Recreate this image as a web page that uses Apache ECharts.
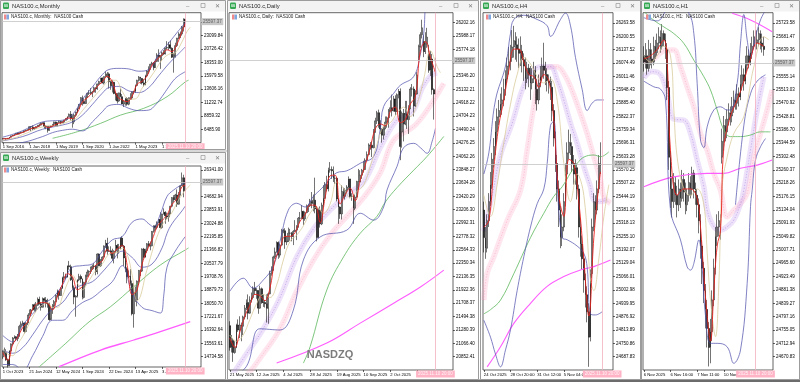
<!DOCTYPE html>
<html lang="en">
<head>
<meta charset="UTF-8">
<title>NAS100 multi timeframe</title>
<script src="https://cdn.jsdelivr.net/npm/echarts@6/dist/echarts.min.js"></script>
<style>
  html, body { margin: 0; padding: 0; background: #fff; }
  #main { width: 800px; height: 382px; }
</style>
</head>
<body>
<div id="main"></div>
<script type="text/javascript">
// ---- Monthly: candles [open, close, low, high] from 1 Sep 2016
var monthlyCandles = [
  [4770,4875,4720,4890],[4875,4800,4760,4900],[4800,4810,4600,4900],[4810,4860,4770,4960],
  [4860,5090,4850,5110],[5090,5330,5070,5350],[5330,5440,5300,5470],[5440,5580,5330,5600],
  [5580,5790,5520,5820],[5790,5650,5560,5910],[5650,5880,5630,5930],[5880,5990,5750,6000],
  [5990,6000,5870,6020],[6000,6250,5990,6260],[6250,6370,6200,6400],[6370,6400,6270,6460],
  [6400,6950,6400,7020],[6950,6900,6170,7020],[6900,6580,6320,7190],[6580,6610,6400,6870],
  [6610,6970,6570,7000],[6970,7040,6960,7280],[7040,7230,7010,7500],[7230,7620,7180,7630],
  [7620,7630,7460,7690],[7630,6970,6610,7700],[6970,6950,6500,7140],[6950,6330,5900,7000],
  [6330,6900,6210,6970],[6900,7090,6860,7150],[7090,7380,6940,7400],[7380,7780,7370,7850],
  [7780,7130,7090,7850],[7130,7670,7030,7710],[7670,7850,7630,8020],[7850,7690,7420,7950],
  [7690,7750,7550,7990],[7750,8080,7540,8120],[8080,8410,8050,8440],[8410,8730,8150,8780],
  [8730,9150,8720,9280],[9150,8460,8060,9720],[8460,7810,6770,9000],[7810,9000,7400,9200],
  [9000,9560,8750,9600],[9560,10160,9350,10310],[10160,10900,10100,10980],[10900,12110,10800,12190],
  [12110,11420,10680,12470],[11420,11050,10950,12000],[11050,12270,10980,12300],[12270,12890,12050,12950],
  [12890,12930,12580,13440],[12930,12910,12600,13800],[12910,13090,12200,13300],[13090,13860,13080,14060],
  [13860,13690,12970,13900],[13690,14550,13500,14570],[14550,14960,14350,15120],[14960,15580,14800,15600],
  [15580,14690,14650,15700],[14690,15850,14450,15870],[15850,16140,15800,16760],[16140,16320,15600,16660],
  [16320,14930,13720,16570],[14930,14240,13500,15200],[14240,14840,13020,15270],[14840,12850,12720,14900],
  [12850,12640,11600,13150],[12640,11500,11070,12950],[11500,12950,11370,12990],[12950,12270,12150,13720],
  [12270,10970,10950,12750],[10970,11410,10440,11650],[11410,11950,10690,12040],[11950,10940,10670,12170],
  [10940,12100,10750,12140],[12100,12040,11810,12880],[12040,13180,11700,13210],[13180,13250,12720,13300],
  [13250,14250,12970,14420],[14250,15180,14140,15280],[15180,15760,14960,15930],[15760,15500,14560,15800],
  [15500,14720,14440,15570],[14720,14410,14060,15360],[14410,15950,14290,16170],[15950,16830,15800,16970],
  [16830,17140,16380,17660],[17140,18040,17100,18120],[18040,18250,17780,18470],[18250,17440,16970,18430],
  [17440,18540,17400,18910],[18540,19680,18410,20000],[19680,19360,18460,20690],[19360,19570,17220,19640],
  [19570,20060,18630,20300],[20060,19890,19660,20550],[19890,20930,19780,21000],[20930,21010,20620,22130],
  [21010,21480,20540,22000],[21480,20880,20660,22220],[20880,19280,19150,21030],[19280,19570,16540,20050],
  [19570,21340,19230,21860],[21340,22680,21100,22700],[22680,23220,22480,23720],[23220,23420,22670,23850],
  [23420,24680,23100,24830],[24680,26000,23850,26190],[26000,25590,24680,26120]
];
var monthlyDates = ['1 Sep 2016', '1 Jan 2018', '1 May 2019', '1 Sep 2020', '1 Jan 2022', '1 May 2023', '1 Sep 2024'];
var monthlyTicks = [6485.90, 8859.32, 11232.74, 13606.16, 15979.58, 18353.00, 20726.42, 23099.84, 25473.26];
var monthlyUpper = [[0,5100],[6,5600],[12,6250],[18,7100],[24,7800],[30,8000],[36,8100],[42,9100],[48,11800],[54,14000],[60,16200],[64,17100],[70,17300],[76,17200],[82,16800],[88,17100],[94,19800],[100,21800],[106,24000],[110,25400]];
var monthlyMiddle = [[0,4450],[12,5200],[24,6500],[36,7250],[42,7800],[48,9000],[54,10900],[60,12900],[64,13900],[70,14100],[76,13300],[82,13000],[88,13900],[94,16000],[100,18100],[106,19900],[110,21100]];
var monthlyLower = [[0,3800],[12,4150],[24,5200],[30,5900],[36,6300],[42,6500],[48,6200],[54,7800],[60,9600],[64,10700],[70,10900],[76,10200],[82,9800],[88,9900],[92,10800],[96,12300],[100,14000],[103,15200],[106,16000],[110,16700]];
var monthlyRed = [[0,4800],[3,4840],[6,5300],[9,5620],[12,5930],[15,6300],[18,6700],[21,6900],[24,7450],[27,6800],[30,7050],[33,7500],[36,7720],[39,8500],[42,8400],[45,9500],[48,11300],[51,12100],[54,12950],[57,14100],[60,14900],[63,15900],[66,14900],[69,12300],[72,11700],[75,11400],[78,12400],[81,14500],[84,15000],[87,16000],[90,17900],[93,18900],[96,19700],[99,20600],[102,20300],[105,21600],[108,23800],[110,25300]];
var monthlyTan = [[0,4500],[4,4750],[8,5050],[12,5550],[16,6000],[20,6600],[24,6900],[28,7200],[32,7050],[36,7500],[40,7900],[44,8400],[48,9800],[52,11200],[56,12600],[60,13900],[64,15100],[68,15200],[72,13200],[76,11800],[80,11900],[84,13800],[88,15300],[92,17000],[96,18800],[100,19800],[104,20100],[108,22000],[111,23800],[113,24600]];
var monthlyGreen = [[30,4890],[45,6060],[59,7550],[71,9010],[85,10210],[99,12270],[110,14900],[112,15200]];

// ---- Weekly: candles from week of 1 Oct 2023
var weeklyCandles = [
  [14720,15080,14600,15120],[15080,14990,14850,15300],[14990,14540,14480,15200],[14540,14180,14060,14620],
  [14180,15100,14150,15130],[15100,15530,15000,15560],[15530,15900,15450,15950],[15900,15980,15850,16060],
  [15980,15860,15700,16010],[15860,16080,15700,16150],[16080,16620,15970,16720],[16620,16780,16480,16930],
  [16780,16830,16680,16970],[16830,16300,16180,16850],[16300,16830,16250,16880],[16830,17310,16700,17340],
  [17310,17420,17300,17670],[17420,17640,17250,17700],[17640,17960,17600,18000],[17960,17690,17550,18040],
  [17690,17940,17500,18140],[17940,18300,17900,18420],[18300,18020,17980,18470],[18020,17810,17600,18100],
  [17810,18340,17790,18420],[18340,18250,18150,18420],[18250,18050,17800,18440],[18050,18000,17780,18340],
  [18000,17040,16970,18100],[17040,17720,17100,17820],[17720,17890,17400,18010],[17890,18160,17890,18260],
  [18160,18550,18100,18620],[18550,18810,18450,18910],[18810,18540,18280,18830],[18540,19000,18520,19050],
  [19000,19660,18950,19710],[19660,19700,19480,20000],[19700,19680,19550,19900],[19680,20390,19660,20400],
  [20390,20330,20140,20690],[20330,19520,19450,20460],[19520,19020,18900,19690],[19020,18440,18000,19160],
  [18440,18510,17220,18560],[18510,19510,18420,19550],[19510,19720,19430,19890],[19720,19570,19330,19840],
  [19570,18420,18300,19600],[18420,19360,18360,19390],[19360,19750,19150,19840],[19750,20000,19700,20150],
  [20000,20040,19740,20110],[20040,20270,19880,20340],[20270,20360,20130,20460],[20360,20350,20180,20550],
  [20350,20030,19800,20440],[20030,21120,19860,21160],[21120,20390,20360,21160],[20390,20740,20310,20800],
  [20740,20930,20700,20980],[20930,21620,20900,21650],[21620,21780,21500,22000],[21780,21290,21080,22130],
  [21290,21320,21250,21600],[21320,21250,21030,21600],[21250,20850,20700,21450],[20850,21300,20540,21350],
  [21300,21650,21170,22000],[21650,21480,20850,21750],[21480,21490,21150,21750],[21490,22110,21420,22140],
  [22110,21610,21570,22220],[21610,20880,20380,21680],[20880,20200,19990,21000],[20200,19700,19300,20300],
  [19700,19750,19620,20100],[19750,19280,19150,20180],[19280,17400,17300,19470],[17400,18690,16540,19300],
  [18690,18260,18140,19100],[18260,19430,17870,19480],[19430,20100,19200,20130],[20100,20060,19750,20160],
  [20060,21430,20000,21470],[21430,20920,20850,21500],[20920,21340,20900,21450],[21340,21760,21200,21800],
  [21760,21630,21540,21930],[21630,21630,21350,21900],[21630,22530,21600,22550],[22530,22870,22450,22900],
  [22870,22780,22600,22950],[22780,23070,22700,23150],[23070,23270,23020,23300],[23270,22760,22700,23720],
  [22760,23610,22700,23630],[23610,23710,23580,23960],[23710,23500,23000,23780],[23500,23420,23300,23700],
  [23420,23650,23130,23700],[23650,24090,23600,24120],[24090,24630,24020,24660],[24630,24500,24340,24780],
  [24500,24790,24440,24860],[24790,24220,24050,25140],[24220,24820,24190,24980],[24820,25360,24750,25400],
  [25360,25860,25350,26190],[25860,25060,24650,26050],[25060,25590,25040,25620]
];
var weeklyDates = ['1 Oct 2023', '21 Jan 2024', '12 May 2024', '1 Sep 2024', '22 Dec 2024', '13 Apr 2025', '3 Aug 2025'];
var weeklyTicks = [14734.58, 15563.61, 16392.64, 17221.67, 18050.70, 18879.73, 19708.76, 20537.79, 21366.82, 22195.85, 23024.88, 23853.91, 24682.94, 25511.97, 26341.00];
var weeklyUpper = [[0,16050],[6,15650],[12,16700],[18,17400],[24,18000],[30,18400],[36,19200],[42,20300],[48,20400],[54,20500],[60,21300],[66,22000],[72,22200],[78,23100],[84,23300],[88,23000],[91,22800],[95,23600],[99,24700],[103,25100],[108,25450],[110,25600]];
var weeklyMiddle = [[0,15150],[6,14950],[12,15300],[18,16100],[24,17000],[30,17700],[36,18100],[42,18900],[48,19200],[54,19400],[60,20000],[66,20700],[72,21300],[78,20900],[84,20300],[90,20500],[96,21500],[99,22400],[102,23000],[108,23800],[110,24100]];
var weeklyLower = [[0,14250],[6,14250],[12,13900],[18,14800],[24,16000],[30,17000],[36,17000],[42,17600],[48,18100],[54,18400],[60,18900],[66,19400],[72,20400],[78,18700],[84,17800],[90,17600],[95,17450],[97,18500],[99,20300],[104,21300],[110,22200]];
var weeklyRed = [[0,15000],[3,14500],[6,15500],[9,15950],[12,16550],[15,16900],[18,17700],[21,18050],[24,18100],[27,18050],[30,17650],[33,18500],[36,19250],[39,19900],[42,19700],[45,18900],[48,19100],[51,19600],[54,20200],[57,20500],[60,20700],[63,21400],[66,21150],[69,21450],[72,21650],[75,20400],[78,18600],[81,18900],[84,20500],[87,21350],[90,22000],[93,22800],[96,23200],[99,23550],[102,24200],[105,24550],[108,25300],[110,25400]];
var weeklyTan = [[0,15200],[3,14900],[6,14800],[9,15500],[12,16000],[15,16600],[18,17200],[21,17700],[24,17950],[27,18100],[30,17800],[33,17800],[36,18500],[39,19300],[42,19800],[45,19300],[48,18900],[51,19300],[54,19800],[57,20200],[60,20500],[63,21000],[66,21200],[69,21200],[72,21500],[75,21100],[78,19800],[81,18200],[83,18500],[86,19800],[89,20900],[92,21900],[96,22900],[99,23300],[102,23700],[105,24300],[108,24800],[111,25200],[113,25400]];
var weeklyGreen = [[22,14110],[38,15570],[52,16900],[65,17850],[79,19090],[95,20440],[110,21370],[112,21500]];
var weeklyMagenta = [[34,14112],[59,15150],[79,15773],[95,16290],[113,16911]];

// ---- Daily: candles from 21 May 2025
var dailyCandles = [
  [21350,21000,20950,21420],[21000,21110,20920,21200],[21110,20920,20770,21150],[20920,21000,20900,21100],
  [21000,21360,20990,21380],[21360,21280,21250,21450],[21280,21360,21150,21500],[21360,21340,21100,21400],
  [21340,21490,21200,21510],[21490,21630,21450,21680],[21630,21720,21600,21770],[21720,21550,21450,21850],
  [21550,21760,21540,21820],[21760,21800,21720,21880],[21800,21950,21770,21980],[21950,21910,21850,22050],
  [21910,21910,21780,21950],[21910,21630,21540,21920],[21630,21940,21620,21990],[21940,21720,21700,21960],
  [21720,21720,21650,21850],[21720,21700,21640,21760],[21700,21630,21400,21850],[21630,21860,21380,21880],
  [21860,22190,21850,22230],[22190,22240,22150,22300],[22240,22450,22230,22470],[22450,22530,22420,22600],
  [22530,22680,22520,22700],[22680,22480,22420,22700],[22480,22640,22440,22660],[22640,22870,22630,22900],
  [22870,22870,22830,22900],[22870,22690,22580,22910],[22690,22700,22640,22780],[22700,22830,22690,22920],
  [22830,22830,22710,22900],[22830,22780,22700,22850],[22780,22860,22640,22880],[22860,22880,22850,23040],
  [22880,22930,22720,22960],[22930,23070,22920,23090],[23070,23070,23010,23170],[23070,23180,23060,23280],
  [23180,23060,22960,23190],[23060,23160,23030,23180],[23160,23220,23150,23290],[23220,23270,23170,23300],
  [23270,23340,23250,23380],[23340,23310,23230,23490],[23310,23360,23180,23450],[23360,23220,23150,23720],
  [23220,22760,22700,23250],[22760,23200,22750,23230],[23200,22980,22920,23260],[22980,23280,22960,23320],
  [23280,23390,23240,23600],[23390,23610,23380,23650],[23610,23540,23500,23750],[23540,23840,23500,23880],
  [23840,23850,23800,23970],[23850,23830,23700,23900],[23830,23710,23650,23900],[23710,23710,23620,23760],
  [23710,23380,23340,23730],[23380,23250,22980,23380],[23250,23140,23060,23260],[23140,23500,23050,23600],
  [23500,23420,23400,23560],[23420,23520,23370,23550],[23520,23570,23460,23600],[23570,23700,23540,23740],
  [23700,23420,23390,23700],[23420,23420,23350,23470],[23420,23230,22980,23450],[23230,23410,23200,23450],
  [23410,23660,23400,23670],[23660,23650,23530,23860],[23650,23760,23650,23840],[23760,23840,23700,23860],
  [23840,23850,23800,23990],[23850,24000,23840,24030],[24000,24090,23990,24140],[24090,24240,24080,24270],
  [24240,24240,24170,24290],[24240,24200,24050,24300],[24200,24450,24190,24500],[24450,24630,24440,24680],
  [24630,24760,24580,24790],[24760,24580,24520,24810],[24580,24500,24420,24640],[24500,24400,24280,24510],
  [24400,24500,24330,24540],[24500,24610,24500,24700],[24610,24680,24520,24700],[24680,24790,24520,24820],
  [24790,24840,24780,24960],[24840,24790,24700,25050],[24790,24980,24780,25030],[24980,24780,24720,25040],
  [24780,25050,24770,25070],[25050,25100,24990,25140],[25100,24220,24000,25150],[24450,24750,24200,24780],
  [24750,24580,24300,24820],[24580,24740,24560,24950],[24740,24650,24500,24950],[24650,24820,24420,24880],
  [24820,25140,24820,25170],[25140,25140,25020,25220],[25140,24870,24700,25180],[24870,25060,24850,25120],
  [25060,25360,25050,25410],[25650,25820,25600,25850],[25820,26010,25800,26050],[26010,26120,25950,26250],
  [25900,25740,25650,26000],[25740,25860,25700,26050],[25860,25970,25800,26120],[25700,25440,25400,25850],
  [25440,25620,25350,25750],[25620,25130,25050,25700],[25130,25060,24650,25150],[25060,25590,25050,25640]
];
var dailyDates = ['21 May 2025', '12 Jun 2025', '4 Jul 2025', '28 Jul 2025', '19 Aug 2025', '10 Sep 2025', '2 Oct 2025', '24 Oct 2025'];
var dailyTicks = [20852.41, 21066.40, 21280.39, 21494.38, 21708.37, 21922.36, 22136.35, 22350.34, 22564.33, 22778.32, 22992.31, 23206.30, 23420.29, 23634.28, 23848.27, 24062.26, 24276.25, 24490.24, 24704.23, 24918.22, 25132.21, 25346.20, 25560.19, 25774.18, 25988.17, 26202.16];
var dailyUpper = [[0,21900],[8,22110],[14,21950],[20,22080],[26,22300],[30,22700],[35,23200],[40,23310],[45,23250],[50,23420],[55,23550],[60,23700],[64,23800],[70,23830],[78,23950],[86,24060],[90,24500],[92,24860],[98,25070],[102,25200],[110,25340],[114,25700],[116,26030],[118,26600],[123,26700]];
var dailyLower = [[0,20500],[10,20700],[18,21300],[30,21280],[38,21600],[44,22400],[54,22770],[70,22880],[78,23150],[86,23040],[92,23250],[94,23520],[100,23900],[104,24200],[110,24270],[114,24200],[118,24110],[121,24300],[123,24510]];
var dailyPurple = [[0,20500],[10,20900],[20,21300],[30,21800],[40,22450],[50,22900],[60,23200],[70,23450],[80,23650],[90,24200],[100,24650],[105,24700],[110,24800],[115,25150],[120,25350],[124,25400]];
var dailyPink = [[0,20300],[10,20550],[20,20900],[30,21300],[40,21900],[50,22400],[60,22800],[70,23100],[80,23400],[90,23800],[98,24320],[110,24540],[118,24800],[128,25230]];
var dailyRed = [[0,21150],[3,21000],[6,21250],[9,21500],[12,21680],[15,21850],[18,21830],[21,21750],[24,21950],[27,22400],[30,22580],[33,22780],[36,22780],[39,22840],[42,23020],[45,23130],[48,23280],[51,23280],[54,23000],[57,23400],[60,23750],[63,23760],[66,23300],[69,23450],[72,23550],[75,23350],[78,23680],[81,23920],[84,24200],[87,24500],[90,24580],[93,24550],[96,24780],[99,24850],[102,24600],[105,24650],[108,24900],[111,25020],[114,25750],[117,25900],[120,25650],[123,25400]];
var dailyTan = [[0,21200],[4,21100],[8,21200],[12,21450],[16,21700],[20,21850],[24,21800],[28,22000],[32,22400],[36,22700],[40,22800],[44,22950],[48,23150],[52,23250],[56,23150],[60,23300],[64,23650],[68,23550],[72,23400],[76,23500],[80,23600],[84,23900],[88,24250],[92,24550],[96,24600],[100,24750],[104,24850],[108,24700],[112,24900],[116,25300],[120,25750],[124,25500],[126,25400]];
var dailyGreen = [[44,20750],[48,21010],[58,21920],[68,22450],[78,22830],[88,23100],[93,23330],[100,23560],[110,23840],[118,24060],[128,24380]];
var dailyMagenta = [[28,20750],[58,21070],[78,21390],[98,21710],[114,21970],[128,22240]];

// ---- H4: candles from 24 Oct 2025
var h4Candles = [
  [25380,25250,25180,25420],[25250,25200,25150,25300],[25200,25330,25180,25360],[25330,25420,25300,25460],
  [25420,25500,25400,25560],[25500,25620,25480,25650],[25620,25680,25580,25720],[25680,25750,25640,25800],
  [25750,25820,25700,25860],[25820,25850,25780,25900],[25850,25880,25820,25930],[25880,25900,25830,25960],
  [25900,25950,25870,26000],[25950,26000,25920,26040],[26000,26060,25980,26100],[26060,26080,26020,26150],
  [26080,26100,26040,26160],[26100,26150,26080,26230],[26150,26180,26100,26250],[26180,26160,26090,26220],
  [26160,26140,26080,26200],[26140,26120,26050,26190],[26120,26130,26060,26200],[26130,26090,26030,26160],
  [26090,26060,25990,26120],[26060,26000,25950,26100],[26000,26050,25980,26080],[26050,26020,25960,26070],
  [26020,25980,25900,26060],[25980,26000,25950,26050],[26000,26040,25980,26080],[26040,25950,25880,26060],
  [25950,25900,25850,26000],[25900,25980,25880,26020],[25980,26010,25960,26060],[26010,26060,25990,26100],
  [26060,26040,26000,26170],[26040,26020,25970,26080],[26020,25990,25940,26050],[25990,25980,25930,26020],
  [25980,25960,25900,26010],[25960,25850,25800,25990],[25850,25720,25680,25880],[25720,25600,25560,25750],
  [25600,25480,25420,25640],[25480,25380,25300,25520],[25380,25250,25200,25400],[25250,25300,25210,25360],
  [25300,25420,25280,25460],[25420,25550,25400,25600],[25550,25650,25520,25700],[25650,25700,25620,25760],
  [25700,25680,25640,25740],[25680,25600,25560,25700],[25600,25550,25500,25640],[25550,25580,25500,25620],
  [25580,25480,25430,25600],[25480,25300,25250,25500],[25300,25220,25160,25340],[25220,25150,25100,25260],
  [25150,25050,24990,25180],[25050,24980,24920,25080],[24980,24900,24850,25020],[24900,24780,24640,24940],
  [24780,25080,24760,25100],[25080,25300,25060,25340],[25300,25420,25280,25460],[25420,25380,25340,25450],
  [25380,25480,25360,25520],[25480,25600,25460,25640],[25600,25590,25550,25700]
];
var h4Dates = ['24 Oct 2025', '28 Oct 20:00', '31 Oct 12:00', '5 Nov 04:00'];
var h4Ticks = [24687.83, 24750.86, 24813.89, 24876.92, 24939.95, 25002.98, 25066.01, 25129.04, 25192.07, 25255.10, 25318.13, 25381.16, 25444.19, 25507.22, 25570.25, 25633.28, 25696.31, 25759.34, 25822.37, 25885.40, 25948.43, 26011.46, 26074.49, 26137.52, 26200.55, 26263.58];
var h4Upper = [[0,25550],[3,25650],[7,25900],[13,26060],[16,26215],[18,26280],[24,26300],[32,26280],[38,26250],[40,26200],[46,26280],[49,26310],[52,26250],[55,26100],[59,25950],[62,25850],[65,25885],[68,25900],[72,25900]];
var h4Lower = [[0,24860],[4,24780],[7,24700],[10,24640],[13,24720],[16,24815],[20,25000],[24,25160],[28,25300],[32,25410],[36,25480],[38,25600],[40,25780],[42,25800],[44,25500],[47,25250],[50,25240],[56,25210],[60,25175],[62,25110],[64,24890],[67,24885],[71,24900]];
var h4Purple = [[0,25280],[5,25450],[10,25640],[17,25790],[23,25947],[28,26025],[34,26057],[40,26057],[44,25994],[48,25899],[52,25790],[56,25695],[60,25585],[64,25490],[66,25427],[70,25420],[74,25430]];
var h4Pink = [[0,24955],[2,25081],[6,25160],[14,25330],[22,25474],[26,25664],[30,25868],[34,26010],[40,26057],[44,26057],[48,26025],[52,25962],[58,25836],[62,25742],[66,25632],[70,25522],[72,25443],[76,25412]];
var h4Red = [[0,25300],[3,25330],[6,25580],[9,25780],[12,25900],[15,26040],[18,26140],[21,26140],[24,26080],[27,26020],[30,26010],[33,25960],[36,26020],[39,25990],[42,25800],[45,25450],[48,25350],[51,25620],[54,25600],[57,25420],[60,25150],[63,24880],[66,25250],[69,25500],[70,25560]];
var h4Tan = [[0,25450],[4,25350],[8,25500],[12,25700],[16,25880],[20,26020],[24,26100],[28,26070],[32,26010],[36,25980],[40,26000],[44,25900],[48,25600],[52,25420],[56,25550],[60,25450],[64,25050],[66,25000],[69,25150],[72,25350],[75,25500]];
var h4Green = [[0,24890],[4,24910],[10,24955],[18,25080],[28,25250],[36,25365],[42,25445],[47,25490],[52,25555],[56,25600],[60,25630],[66,25640],[70,25632],[75,25655]];
var h4Magenta = [[2,24640],[10,24735],[18,24845],[28,24940],[38,25020],[48,25066],[58,25097],[66,25113],[76,25144]];

// ---- H1: candles from 6 Nov 2025
var h1Candles = [
  [25620,25600,25570,25650],[25600,25620,25580,25660],[25620,25580,25560,25640],[25580,25640,25570,25670],
  [25640,25610,25590,25660],[25610,25600,25580,25640],[25600,25650,25590,25680],[25650,25630,25610,25670],
  [25630,25660,25620,25690],[25660,25680,25640,25710],[25680,25650,25630,25700],[25650,25690,25640,25720],
  [25690,25670,25650,25700],[25670,25640,25610,25690],[25640,25520,25480,25660],[25520,25300,25260,25540],
  [25300,25200,25140,25320],[25200,25160,25110,25240],[25160,25220,25140,25250],[25220,25180,25150,25240],
  [25180,25150,25110,25210],[25150,25200,25130,25230],[25200,25170,25140,25220],[25170,25230,25160,25260],
  [25230,25190,25160,25250],[25190,25150,25120,25220],[25150,25180,25130,25200],[25180,25220,25160,25250],
  [25220,25200,25170,25240],[25200,25250,25180,25270],[25250,25200,25170,25260],[25200,25180,25150,25220],
  [25180,25150,25110,25200],[25150,25100,25060,25170],[25100,25020,24980,25120],[25020,24950,24900,25040],
  [24950,24880,24840,24970],[24880,24820,24760,24900],[24820,24760,24700,24850],[24760,24700,24640,24780],
  [24700,24750,24650,24790],[24750,24850,24720,24880],[24850,24950,24830,24980],[24950,25050,24930,25080],
  [25050,25080,25020,25120],[25080,25100,25050,25130],[25100,25060,25040,25120],[25300,25350,25280,25390],
  [25350,25400,25320,25430],[25400,25380,25350,25420],[25380,25420,25360,25450],[25420,25440,25400,25470],
  [25440,25430,25400,25460],[25430,25460,25410,25490],[25460,25480,25440,25510],[25480,25470,25450,25500],
  [25470,25500,25450,25530],[25500,25490,25460,25520],[25490,25530,25480,25560],[25530,25560,25510,25590],
  [25560,25540,25510,25580],[25540,25590,25530,25620],[25590,25620,25570,25650],[25620,25600,25580,25640],
  [25600,25630,25590,25660],[25630,25650,25610,25680],[25650,25680,25640,25700],[25680,25660,25640,25700],
  [25660,25670,25640,25700],[25670,25690,25650,25710],[25690,25660,25640,25700],[25660,25650,25630,25690],
  [25650,25640,25620,25680]
];
var h1Dates = ['6 Nov 2025', '6 Nov 16:00', '7 Nov 11:00', '10 Nov 03:00'];
var h1Ticks = [24670.83, 24712.94, 24755.05, 24797.16, 24839.27, 24881.38, 24923.49, 24965.60, 25007.71, 25049.82, 25091.93, 25134.04, 25176.15, 25218.26, 25260.37, 25302.48, 25344.59, 25386.70, 25428.81, 25470.92, 25513.03, 25555.14, 25597.25, 25639.36, 25681.47, 25723.58];
var h1Upper = [[0,25740],[8,25730],[13,25760],[18,25800],[27,25754],[30,25690],[32,25533],[34,25354],[36,25330],[38,25396],[42,25449],[46,25459],[50,25449],[52,25449],[56,25533],[58,25660],[60,25750],[62,25670],[64,25617],[67,25680],[70,25733],[73,25764]];
var h1Middle = [[55,25150],[60,25400],[64,25500],[68,25540],[73,25560]];
var h1Lower = [[0,25540],[6,25522],[10,25515],[13,25480],[16,25133],[22,25039],[26,24954],[28,24944],[30,24965],[33,25039],[35,24950],[37,24800],[40,24713],[44,24713],[50,24702],[54,24650],[58,24692],[62,24902],[64,25144],[65,25196],[67,25291],[70,25333],[73,25359]];
var h1Purple = [[0,25550],[5,25570],[10,25560],[14,25500],[18,25420],[24,25417],[28,25375],[32,25291],[36,25207],[38,25133],[42,25081],[46,25070],[50,25081],[54,25102],[58,25154],[60,25196],[64,25322],[68,25449],[72,25554]];
var h1Pink = [[0,25600],[6,25610],[10,25630],[14,25638],[18,25638],[22,25585],[26,25522],[30,25459],[34,25375],[38,25322],[42,25249],[46,25196],[50,25112],[54,25133],[58,25154],[62,25186],[66,25301],[70,25375],[74,25449],[77,25512]];
var h1Red = [[0,25610],[4,25620],[8,25640],[12,25670],[14,25600],[16,25320],[20,25180],[24,25200],[28,25200],[32,25170],[34,25080],[36,24930],[38,24800],[40,24720],[42,24880],[44,25020],[46,25070],[48,25330],[52,25430],[56,25480],[60,25540],[64,25610],[68,25660],[72,25650]];
var h1Tan = [[0,25620],[4,25600],[8,25620],[12,25650],[16,25620],[18,25450],[20,25300],[24,25200],[28,25180],[32,25200],[36,25150],[38,25000],[40,24850],[43,24734],[45,24900],[47,25207],[50,25301],[54,25375],[60,25428],[66,25585],[72,25680],[75,25670]];
var h1Green = [[0,25760],[6,25732],[12,25711],[18,25690],[24,25659],[30,25606],[36,25554],[40,25512],[44,25449],[48,25386],[52,25365],[58,25365],[64,25370],[70,25380],[76,25380]];
var h1MagentaLow = [[0,25207],[18,25238],[38,25249],[48,25249],[58,25265],[68,25275],[77,25291]];
var h1MagentaHigh = [[53,25754],[64,25733],[77,25696]];

var bidPrice = 25597.37;
var markerTime = '2025.11.10 20:00';

// ---------------------------------------------------------------
var FONT = 'Liberation Sans';
var grids = [], xAxes = [], yAxes = [], series = [];

function ribbon(k, data, fill, edge) {
  series.push({type: 'line', xAxisIndex: k, yAxisIndex: k, data: data, smooth: 0.4, showSymbol: false,
    silent: true, animation: false, z: 1, lineStyle: {color: fill, width: 5.5}});
  series.push({type: 'line', xAxisIndex: k, yAxisIndex: k, data: data, smooth: 0.4, showSymbol: false,
    silent: true, animation: false, z: 1, lineStyle: {color: edge, width: 0.6, type: [1.2, 1.6]}});
}
function line(k, data, color, width) {
  series.push({type: 'line', xAxisIndex: k, yAxisIndex: k, data: data, smooth: 0.4, showSymbol: false,
    silent: true, animation: false, z: 3, lineStyle: {color: color, width: width}});
}

function addPane(p) {
  var k = grids.length;
  grids.push({left: p.left, top: p.top, width: p.width, height: p.height, show: true,
    borderColor: '#3c3c3c', borderWidth: 0.8, backgroundColor: '#ffffff',
    containLabel: false, outerBoundsMode: 'none'});
  var cats = [];
  for (var i = 0; i < p.count; i++) cats.push('b' + i);
  var every16 = function (idx) { return idx % 16 === 0 && p.dates[idx / 16] !== undefined; };
  xAxes.push({type: 'category', gridIndex: k, data: cats, boundaryGap: true,
    axisLine: {show: false}, splitLine: {show: false},
    axisTick: {show: true, interval: every16, length: 2, alignWithLabel: true, lineStyle: {color: '#000', width: 0.6}},
    axisLabel: {interval: every16, hideOverlap: false, align: 'left', margin: 2.5, fontSize: 4.2, color: '#000', fontFamily: FONT,
      formatter: function (v, idx) { return p.dates[idx / 16] || ''; }}});
  yAxes.push({type: 'value', gridIndex: k, position: 'right', min: p.min, max: p.max, scale: true,
    axisLine: {show: false}, splitLine: {show: false},
    axisTick: {show: true, length: 2, customValues: p.ticks, lineStyle: {color: '#000', width: 0.6}},
    axisLabel: {customValues: p.ticks, margin: 3, fontSize: 4.5, color: '#000', fontFamily: FONT,
      formatter: function (v) { return v.toFixed(2); }}});

  if (p.pink) ribbon(k, p.pink, 'rgba(255,170,195,0.30)', 'rgba(245,120,160,0.55)');
  if (p.purple) ribbon(k, p.purple, 'rgba(200,165,240,0.32)', 'rgba(145,95,210,0.65)');

  series.push({type: 'candlestick', xAxisIndex: k, yAxisIndex: k, data: p.candles, barWidth: 1.35,
    silent: true, animation: false, z: 2,
    itemStyle: {color: '#ffffff', color0: '#000000', borderColor: '#000000', borderColor0: '#000000', borderWidth: 0.55},
    markLine: {symbol: 'none', silent: true, animation: false, precision: 2,
      data: [
        {yAxis: bidPrice, lineStyle: {color: '#c4c4c4', width: 0.8, type: 'solid'},
          label: {show: true, position: 'end', distance: 0.5, formatter: bidPrice.toFixed(2),
            backgroundColor: '#c8c8c8', color: '#5a5a5a', fontSize: 4.5, fontFamily: FONT, padding: [1, 1.5]}},
        {xAxis: p.timeIdx, lineStyle: {color: '#f4aebf', width: 0.8, type: 'solid'},
          label: {show: true, position: 'start', distance: 0.5, formatter: markerTime,
            backgroundColor: '#ffb3c5', color: '#fff4f7', fontSize: 4.5, fontFamily: FONT, padding: [1, 2]}}
      ]}});

  (p.lines || []).forEach(function (l) { line(k, l[0], l[1], l[2]); });
}

var BLUE = '#4b4bab', RED = '#e8201c', TAN = '#d9cc9c', GREEN = '#5cb85c', MAG = '#ff5cff';

addPane({left: 2, top: 12.7, width: 199, height: 130, count: 120, min: 4107, max: 27185, timeIdx: 110,
  candles: monthlyCandles, dates: monthlyDates, ticks: monthlyTicks,
  lines: [[monthlyGreen, GREEN, 0.8], [monthlyUpper, BLUE, 0.7], [monthlyMiddle, BLUE, 0.7], [monthlyLower, BLUE, 0.7],
          [monthlyTan, TAN, 0.8], [monthlyRed, RED, 0.9]]});
addPane({left: 2, top: 166, width: 199, height: 201, count: 120, min: 14094, max: 26594, timeIdx: 110,
  candles: weeklyCandles, dates: weeklyDates, ticks: weeklyTicks,
  lines: [[weeklyMagenta, MAG, 1.3], [weeklyGreen, GREEN, 0.8], [weeklyUpper, BLUE, 0.7], [weeklyMiddle, BLUE, 0.7],
          [weeklyLower, BLUE, 0.7], [weeklyTan, TAN, 0.8], [weeklyRed, RED, 0.9]]});
addPane({left: 229, top: 12.7, width: 224, height: 357.3, count: 134, min: 20639.4, max: 26362.2, timeIdx: 123,
  candles: dailyCandles, dates: dailyDates, ticks: dailyTicks, pink: dailyPink, purple: dailyPurple,
  lines: [[dailyMagenta, MAG, 1.1], [dailyGreen, GREEN, 0.8], [dailyUpper, BLUE, 0.7], [dailyLower, BLUE, 0.7],
          [dailyTan, TAN, 0.8], [dailyRed, RED, 0.9]]});
addPane({left: 483, top: 12.7, width: 130, height: 357.3, count: 78, min: 24625.0, max: 26311.9, timeIdx: 71,
  candles: h4Candles, dates: h4Dates, ticks: h4Ticks, pink: h4Pink, purple: h4Purple,
  lines: [[h4Magenta, MAG, 1.1], [h4Green, GREEN, 0.8], [h4Upper, BLUE, 0.7], [h4Lower, BLUE, 0.7],
          [h4Tan, TAN, 0.8], [h4Red, RED, 0.9]]});
addPane({left: 643, top: 12.7, width: 130, height: 357.3, count: 78, min: 24628.9, max: 25755.8, timeIdx: 67,
  candles: h1Candles, dates: h1Dates, ticks: h1Ticks, pink: h1Pink, purple: h1Purple,
  lines: [[h1MagentaLow, MAG, 1.1], [h1MagentaHigh, MAG, 1.1], [h1Green, GREEN, 0.8], [h1Upper, BLUE, 0.7],
          [h1Middle, BLUE, 0.7], [h1Lower, BLUE, 0.7], [h1Tan, TAN, 0.8], [h1Red, RED, 0.9]]});

// ---- window chrome (title bars, frames, headers)
var graphics = [];
function windowChrome(x, y, w, h, title, header, hx, hy) {
  graphics.push({type: 'rect', z: 50, silent: true, shape: {x: x, y: y, width: w, height: 11.5}, style: {fill: '#f3f3f3'}});
  graphics.push({type: 'rect', z: 51, silent: true, shape: {x: x + 0.5, y: y + 0.5, width: w - 1, height: h - 1},
    style: {fill: 'none', stroke: '#9c9c9c', lineWidth: 1}});
  graphics.push({type: 'rect', z: 52, silent: true, shape: {x: x + 3, y: y + 2.5, width: 6, height: 6.5, r: 1.2}, style: {fill: '#35a853'}});
  graphics.push({type: 'text', z: 53, silent: true, x: x + 4, y: y + 5.8,
    style: {text: '00', fill: '#ffffff', font: 'bold 3.6px ' + FONT, verticalAlign: 'middle', textVerticalAlign: 'middle'}});
  graphics.push({type: 'text', z: 53, silent: true, x: x + 12, y: y + 6,
    style: {text: title, fill: '#2a2a2a', font: '5.8px ' + FONT, verticalAlign: 'middle', textVerticalAlign: 'middle'}});
  graphics.push({type: 'text', z: 53, silent: true, x: x + w - 40, y: y + 6,
    style: {text: '\u2013', fill: '#7a7a7a', font: '6px ' + FONT, verticalAlign: 'middle', textVerticalAlign: 'middle'}});
  graphics.push({type: 'rect', z: 53, silent: true, shape: {x: x + w - 25, y: y + 3.5, width: 4, height: 4},
    style: {fill: 'none', stroke: '#8a8a8a', lineWidth: 0.6}});
  graphics.push({type: 'text', z: 53, silent: true, x: x + w - 11, y: y + 6,
    style: {text: '\u2715', fill: '#7a7a7a', font: '5.5px ' + FONT, verticalAlign: 'middle', textVerticalAlign: 'middle'}});
  // chart header inside the plot
  graphics.push({type: 'rect', z: 53, silent: true, shape: {x: hx, y: hy - 2.5, width: 2.5, height: 5}, style: {fill: '#f08a8a'}});
  graphics.push({type: 'rect', z: 53, silent: true, shape: {x: hx + 2.5, y: hy - 2.5, width: 2.5, height: 5}, style: {fill: '#7fa8e0'}});
  graphics.push({type: 'text', z: 53, silent: true, x: hx + 7, y: hy,
    style: {text: header, fill: '#1a1a1a', font: '4.6px ' + FONT, verticalAlign: 'middle', textVerticalAlign: 'middle'}});
}
windowChrome(0, 0, 226, 150, 'NAS100.c,Monthly', 'NAS100.c, Monthly:  NAS100 Cash', 4, 17);
windowChrome(0, 152, 226, 228, 'NAS100.c,Weekly', 'NAS100.c, Weekly:  NAS100 Cash', 4, 170);
windowChrome(227, 0, 252, 380, 'NAS100.c,Daily', 'NAS100.c, Daily:  NAS100 Cash', 232, 17);
windowChrome(480, 0, 161, 380, 'NAS100.c,H4', 'NAS100.c, H4:  NAS100 Cash', 486, 17);
windowChrome(641, 0, 159, 380, 'NAS100.c,H1', 'NAS100.c, H1:  NAS100 Cash', 646, 17);
graphics.push({type: 'rect', z: 50, silent: true, shape: {x: 0, y: 150, width: 227, height: 2}, style: {fill: '#d8d8d8'}});
graphics.push({type: 'rect', z: 50, silent: true, shape: {x: 0, y: 379.5, width: 800, height: 2.5}, style: {fill: '#6c6c6c'}});
graphics.push({type: 'text', z: 40, silent: true, x: 330, y: 355,
  style: {text: 'NASDZQ', fill: '#7c7c7c', font: 'bold 11px ' + FONT, align: 'center', textAlign: 'center',
    verticalAlign: 'middle', textVerticalAlign: 'middle', shadowColor: 'rgba(0,0,0,0.35)', shadowBlur: 2}});

var chart = echarts.init(document.getElementById('main'), null, {renderer: 'canvas'});
chart.setOption({
  backgroundColor: '#ffffff',
  animation: false,
  textStyle: {fontFamily: FONT},
  grid: grids,
  xAxis: xAxes,
  yAxis: yAxes,
  series: series,
  graphic: {elements: graphics}
});
</script>
</body>
</html>
